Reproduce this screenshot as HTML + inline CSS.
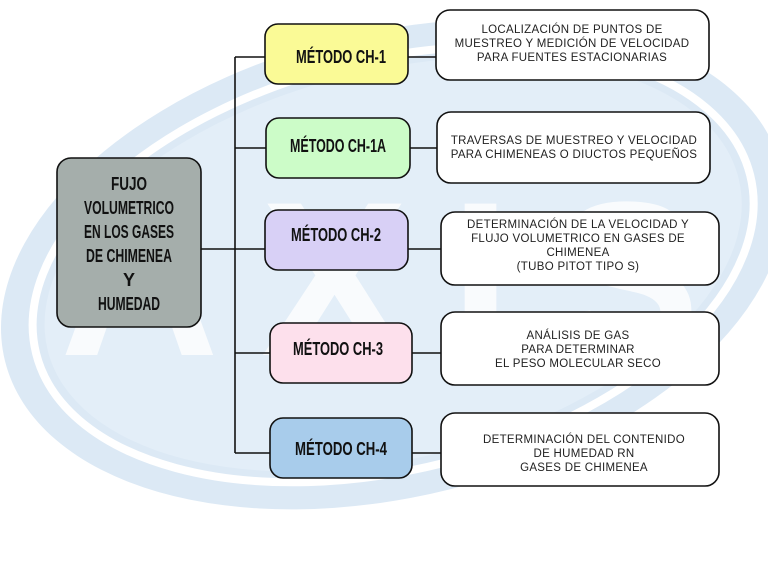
<!DOCTYPE html>
<html><head><meta charset="utf-8"><style>
body{margin:0;width:768px;height:575px;overflow:hidden;background:#fff;}
svg{display:block}
.m{font-family:"Liberation Sans",sans-serif;font-weight:bold;font-size:18px;fill:#111;}
.d{font-family:"Liberation Sans",sans-serif;font-size:11.5px;fill:#222;letter-spacing:0.3px}
</style></head><body>
<svg width="768" height="575" viewBox="0 0 768 575">
<g transform="rotate(-14 390 260)">
<ellipse cx="392" cy="265" rx="400" ry="232" fill="#dce9f5"/>
<ellipse cx="392" cy="265" rx="368" ry="205" fill="none" stroke="#fff" stroke-width="8"/>
<ellipse cx="392" cy="265" rx="356" ry="194" fill="#e3eef8"/>
</g>
<text x="60" y="355" font-family="Liberation Sans" font-weight="bold" font-size="220" fill="#fff" opacity="0.8" textLength="640">AXIS</text>
<g stroke="#111" stroke-width="1.6" fill="none">
<path d="M235 57V453"/>
<path d="M235 57H265M235 148H266M235 249H265M235 353H270M235 453H270"/>
<path d="M201 249H235"/>
<path d="M408 57H436M410 148H437M408 249H441M412 353H441M412 453H441"/>
</g>
<g stroke="#111" stroke-width="1.6">
<rect x="57" y="158" width="144" height="169" rx="14" fill="#a5aeab"/>
<rect x="265" y="24" width="143" height="60" rx="13" fill="#fafa96"/>
<rect x="266" y="118" width="144" height="60" rx="13" fill="#ccfcc8"/>
<rect x="265" y="210" width="143" height="60" rx="13" fill="#d8d0f6"/>
<rect x="270" y="323" width="142" height="60" rx="13" fill="#fde0ec"/>
<rect x="270" y="418" width="142" height="60" rx="13" fill="#a8cceb"/>
<rect x="436" y="10" width="273" height="70" rx="14" fill="#fff"/>
<rect x="437" y="112" width="273" height="71" rx="14" fill="#fff"/>
<rect x="441" y="212" width="278" height="73" rx="14" fill="#fff"/>
<rect x="441" y="312" width="278" height="73" rx="14" fill="#fff"/>
<rect x="441" y="413" width="278" height="73" rx="14" fill="#fff"/>
</g>
<g class="m" text-anchor="middle">
<text x="129" y="190" textLength="36" lengthAdjust="spacingAndGlyphs">FUJO</text>
<text x="129" y="214" textLength="90" lengthAdjust="spacingAndGlyphs">VOLUMETRICO</text>
<text x="129" y="238" textLength="90" lengthAdjust="spacingAndGlyphs">EN LOS GASES</text>
<text x="129" y="262" textLength="86" lengthAdjust="spacingAndGlyphs">DE CHIMENEA</text>
<text x="129" y="286">Y</text>
<text x="129" y="310" textLength="62" lengthAdjust="spacingAndGlyphs">HUMEDAD</text>
<text x="341" y="63" textLength="90" lengthAdjust="spacingAndGlyphs">MÉTODO CH-1</text>
<text x="338" y="152" textLength="96" lengthAdjust="spacingAndGlyphs">MÉTODO CH-1A</text>
<text x="336" y="241" textLength="90" lengthAdjust="spacingAndGlyphs">MÉTODO CH-2</text>
<text x="338" y="355" textLength="90" lengthAdjust="spacingAndGlyphs">MÉTODO CH-3</text>
<text x="341" y="455" textLength="92" lengthAdjust="spacingAndGlyphs">MÉTODO CH-4</text>
</g>
<g class="d" text-anchor="middle">
<text x="572" y="33">LOCALIZACIÓN DE PUNTOS DE</text>
<text x="572" y="47">MUESTREO Y MEDICIÓN DE VELOCIDAD</text>
<text x="572" y="61">PARA FUENTES ESTACIONARIAS</text>
<text x="574" y="144">TRAVERSAS DE MUESTREO Y VELOCIDAD</text>
<text x="574" y="158">PARA CHIMENEAS O DIUCTOS PEQUEÑOS</text>
<text x="578" y="228">DETERMINACIÓN DE LA VELOCIDAD Y</text>
<text x="578" y="242">FLUJO VOLUMETRICO EN GASES DE</text>
<text x="578" y="256">CHIMENEA</text>
<text x="578" y="270">(TUBO PITOT TIPO S)</text>
<text x="578" y="339">ANÁLISIS DE GAS</text>
<text x="578" y="353">PARA DETERMINAR</text>
<text x="578" y="367">EL PESO MOLECULAR SECO</text>
<text x="584" y="443">DETERMINACIÓN DEL CONTENIDO</text>
<text x="584" y="457">DE HUMEDAD RN</text>
<text x="584" y="471">GASES DE CHIMENEA</text>
</g>
</svg>
</body></html>
